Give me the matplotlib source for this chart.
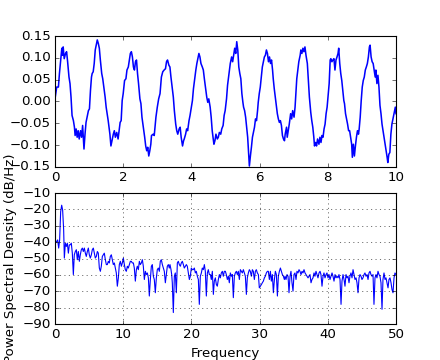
import numpy as np
import matplotlib
matplotlib.use('Agg')
import matplotlib.pyplot as plt

# sinal no tempo
sig_t = [
    0.00, 0.05, 0.10, 0.13, 0.17, 0.20, 0.22, 0.24, 0.27, 0.31,
    0.34, 0.37, 0.41, 0.44, 0.47, 0.50, 0.54, 0.57, 0.59, 0.62,
    0.65, 0.68, 0.71, 0.75, 0.78, 0.81, 0.83, 0.85, 0.88, 0.91,
    0.95, 0.98, 1.01, 1.04, 1.07, 1.09, 1.12, 1.15, 1.18, 1.21,
    1.24, 1.27, 1.30, 1.33, 1.37, 1.40, 1.44, 1.47, 1.50, 1.53,
    1.56, 1.61, 1.64, 1.67, 1.71, 1.74, 1.77, 1.81, 1.85, 1.88,
    1.91, 1.94, 1.97, 2.00, 2.04, 2.08, 2.11, 2.15, 2.18, 2.21,
    2.24, 2.27, 2.30, 2.33, 2.36, 2.39, 2.42, 2.45, 2.49, 2.52,
    2.55, 2.59, 2.63, 2.66, 2.69, 2.72, 2.75, 2.78, 2.81, 2.83,
    2.88, 2.91, 2.96, 3.00, 3.04, 3.08, 3.12, 3.16, 3.20, 3.24,
    3.27, 3.30, 3.34, 3.37,
    3.40, 3.44, 3.47, 3.50, 3.54, 3.57, 3.60, 3.64, 3.67, 3.70,
    3.74, 3.77, 3.79, 3.83, 3.86, 3.89, 3.93, 3.96, 3.99, 4.03,
    4.06, 4.09, 4.13, 4.16, 4.19, 4.22, 4.25, 4.28, 4.32, 4.35,
    4.38, 4.42, 4.45, 4.48, 4.51, 4.55, 4.58, 4.61, 4.64, 4.66,
    4.69, 4.72, 4.76, 4.79, 4.82, 4.86, 4.89, 4.93, 4.96, 4.99,
    5.03, 5.06, 5.09, 5.11, 5.14, 5.18, 5.21, 5.24, 5.27, 5.30,
    5.33, 5.36, 5.39, 5.42, 5.45, 5.48, 5.51, 5.53, 5.56, 5.59,
    5.62, 5.65, 5.68, 5.70, 5.73, 5.76, 5.79, 5.82, 5.85, 5.88,
    5.91, 5.94, 5.96, 5.99, 6.02, 6.05, 6.08, 6.11, 6.14, 6.17,
    6.20, 6.23, 6.26, 6.29, 6.32, 6.35, 6.38, 6.40, 6.43, 6.46,
    6.49, 6.52, 6.55, 6.58, 6.61, 6.64, 6.67, 6.70, 6.73, 6.75,
    6.79, 6.81, 6.84, 6.87, 6.91, 6.94, 6.97, 7.01, 7.04, 7.07,
    7.09, 7.12, 7.15, 7.19, 7.21, 7.24, 7.27, 7.30, 7.33, 7.36,
    7.40, 7.43, 7.46, 7.50, 7.53, 7.56, 7.59, 7.61, 7.64, 7.67,
    7.70, 7.74, 7.77, 7.80, 7.83, 7.86, 7.89, 7.92, 7.95, 7.98,
    8.01, 8.04, 8.07, 8.09, 8.12, 8.15, 8.18, 8.21, 8.24, 8.27,
    8.30, 8.32, 8.35, 8.38, 8.41, 8.44, 8.47, 8.49, 8.52, 8.55,
    8.58, 8.61, 8.64, 8.67, 8.70, 8.72, 8.75, 8.78, 8.81, 8.84,
    8.87, 8.90, 8.92, 8.95, 8.98, 9.01, 9.04, 9.07, 9.10, 9.13,
    9.16, 9.19, 9.22, 9.24, 9.27, 9.30, 9.33, 9.36, 9.39, 9.41,
    9.44, 9.47, 9.50, 9.53, 9.56, 9.59, 9.62, 9.65, 9.68, 9.71,
    9.74, 9.76, 9.79, 9.82, 9.85, 9.88, 9.90, 9.93, 9.96, 9.98, 10.0,
]
sig_v = [
    0.006, 0.033, 0.033, 0.064, 0.098, 0.122, 0.106, 0.125, 0.098, 0.110,
    0.114, 0.091, 0.056, 0.041, 0.010, -0.032, -0.044, -0.059, -0.078, -0.063,
    -0.082, -0.067, -0.086, -0.067, -0.082, -0.055, -0.082, -0.109, -0.075, -0.048,
    -0.032, -0.021, -0.017, 0.025, 0.056, 0.064, 0.068, 0.087, 0.118, 0.129,
    0.141, 0.133, 0.122, 0.095, 0.064, 0.052, 0.029, 0.010, -0.013, -0.028,
    -0.044, -0.075, -0.102, -0.090, -0.075, -0.067, -0.082, -0.071, -0.086, -0.067,
    -0.048, -0.044, 0.002, 0.018, 0.048, 0.052, 0.072, 0.079, 0.095, 0.110,
    0.114, 0.102, 0.079, 0.072, 0.091, 0.095, 0.064, 0.041, 0.006, -0.005,
    -0.036, -0.059, -0.082, -0.102, -0.113, -0.105, -0.125, -0.113, -0.098, -0.078,
    -0.075, -0.078, -0.036, -0.013, 0.006, 0.018, 0.056, 0.068, 0.072, 0.075,
    0.091, 0.095, 0.083, 0.079,
    0.056, 0.029, 0.010, -0.021, -0.052, -0.067, -0.075, -0.063, -0.059, -0.082,
    -0.102, -0.090, -0.086, -0.075, -0.063, -0.067, -0.044, -0.032, -0.017, 0.002,
    0.029, 0.048, 0.072, 0.087, 0.098, 0.110, 0.102, 0.087, 0.079, 0.072,
    0.052, 0.029, 0.010, -0.002, 0.006, -0.013, -0.036, -0.067, -0.086, -0.098,
    -0.090, -0.075, -0.086, -0.082, -0.071, -0.075, -0.063, -0.055, -0.032, -0.021,
    0.006, 0.037, 0.056, 0.068, 0.087, 0.102, 0.091, 0.106, 0.122, 0.110,
    0.137, 0.118, 0.079, 0.064, 0.052, 0.018, -0.002, -0.013, -0.021, -0.036,
    -0.059, -0.082, -0.121, -0.148, -0.125, -0.105, -0.082, -0.071, -0.059, -0.040,
    -0.044, -0.021, -0.002, 0.018, 0.033, 0.056, 0.079, 0.091, 0.102, 0.106,
    0.118, 0.110, 0.091, 0.102, 0.087, 0.095, 0.072, 0.052, 0.029, 0.010,
    -0.009, -0.028, -0.040, -0.048, -0.044, -0.055, -0.078, -0.086, -0.090, -0.075,
    -0.059, -0.082, -0.067, -0.052, -0.028, -0.040, -0.021, -0.036, -0.013, 0.025,
    0.052, 0.072, 0.091, 0.106, 0.118, 0.110, 0.122, 0.114, 0.125, 0.106,
    0.087, 0.048, 0.010, -0.025, -0.044, -0.059, -0.082, -0.102, -0.094, -0.102,
    -0.086, -0.098, -0.082, -0.094, -0.078, -0.082, -0.063, -0.052, -0.028, -0.013,
    0.014, 0.041, 0.095, 0.098, 0.091, 0.095, 0.098, 0.072, 0.095, 0.102,
    0.110, 0.122, 0.087, 0.064, 0.048, 0.025, 0.002, -0.005, -0.028, -0.040,
    -0.052, -0.067, -0.067, -0.082, -0.098, -0.128, -0.098, -0.125, -0.102, -0.082,
    -0.067, -0.075, -0.063, -0.036, 0.002, 0.033, 0.048, 0.056, 0.072, 0.079,
    0.087, 0.102, 0.125, 0.129, 0.102, 0.091, 0.087, 0.072, 0.056, 0.072,
    0.041, 0.060, 0.033, -0.009, -0.028, -0.052, -0.067, -0.082, -0.098, -0.113,
    -0.128, -0.140, -0.121, -0.117, -0.075, -0.052, -0.044, -0.032, -0.021, -0.013, -0.028,
]

# densidade espectral (dB/Hz)
psd_f = [
    0.00, 0.24, 0.39, 0.54, 0.68, 0.83, 0.98, 1.12, 1.27, 1.37,
    1.52, 1.66, 1.81, 1.96, 2.10, 2.25, 2.39, 2.54, 2.69, 2.83,
    2.98, 3.13, 3.27, 3.42, 3.57, 3.71, 3.86, 4.01, 4.15, 4.30,
    4.45, 4.59, 4.74, 4.89, 5.03, 5.18, 5.33, 5.47, 5.62, 5.77,
    5.91, 6.06, 6.21, 6.35, 6.50, 6.65, 6.79, 6.94, 7.09, 7.23,
    7.38, 7.53, 7.67, 7.82, 7.97, 8.11, 8.26, 8.41, 8.55, 8.70,
    8.85, 8.99, 9.14, 9.29, 9.43, 9.58, 9.73, 9.87, 10.02, 10.17,
    10.31, 10.46, 10.61, 10.75, 10.90, 11.05, 11.19, 11.34, 11.49, 11.63,
    11.78, 11.93, 12.07, 12.22, 12.37, 12.51, 12.66, 12.81, 12.95, 13.10,
    13.25, 13.39, 13.54, 13.69, 13.83, 13.98, 14.13, 14.27, 14.42, 14.56,
    14.71, 14.86, 15.00, 15.15, 15.30, 15.44, 15.59, 15.74, 15.88, 16.03,
    16.18, 16.32, 16.47, 16.62, 16.76, 16.86,
    17.01, 17.11, 17.20, 17.35, 17.50, 17.64, 17.79, 17.94, 18.08, 18.23,
    18.38, 18.52, 18.67, 18.82, 18.96, 19.11, 19.26, 19.40, 19.55, 19.70,
    19.84, 19.99, 20.14, 20.28, 20.43, 20.58, 20.72, 20.87, 21.02, 21.16,
    21.31, 21.46, 21.60, 21.75, 21.90, 22.04, 22.19, 22.34, 22.48, 22.63,
    22.78, 22.92, 23.07, 23.22, 23.36, 23.51, 23.66, 23.80, 23.95, 24.10,
    24.24, 24.39, 24.54, 24.68, 24.83, 24.98, 25.12, 25.27, 25.42, 25.56,
    25.71, 25.86, 26.00, 26.15, 26.30, 26.44, 26.59, 26.74, 26.88, 27.03,
    27.18, 27.32, 27.47, 27.62, 27.76, 27.91, 28.06, 28.20, 28.35, 28.50,
    28.64, 28.79, 28.94, 29.08, 29.23, 29.38, 29.52, 29.67, 29.82, 29.96,
    30.11, 30.26, 30.40, 30.55, 30.70, 30.84, 30.99, 31.14, 31.28, 31.43,
    31.58, 31.72, 31.87, 32.02, 32.17, 32.31, 32.46, 32.61, 32.75, 32.90,
    33.05, 33.19, 33.34, 33.49, 33.63, 33.73,
    33.87, 34.02, 34.17, 34.31, 34.46, 34.60, 34.75, 34.90, 35.04, 35.19,
    35.34, 35.48, 35.63, 35.78, 35.92, 36.07, 36.22, 36.36, 36.51, 36.66,
    36.80, 36.95, 37.10, 37.24, 37.39, 37.54, 37.68, 37.83, 37.98, 38.12,
    38.27, 38.42, 38.56, 38.71, 38.86, 39.00, 39.15, 39.30, 39.44, 39.59,
    39.74, 39.88, 40.03, 40.18, 40.32, 40.47, 40.62, 40.76, 40.91, 41.06,
    41.20, 41.35, 41.50, 41.64, 41.79, 41.94, 42.08, 42.23, 42.38, 42.52,
    42.67, 42.82, 42.96, 43.11, 43.25, 43.40, 43.55, 43.70, 43.84, 43.99,
    44.14, 44.28, 44.43, 44.58, 44.72, 44.87, 45.01, 45.16, 45.31, 45.45,
    45.60, 45.75, 45.90, 46.04, 46.19, 46.33, 46.48, 46.63, 46.77, 46.92,
    47.07, 47.21, 47.36, 47.51, 47.65, 47.80, 47.95, 48.09, 48.24, 48.39,
    48.53, 48.68, 48.83, 48.97, 49.12, 49.27, 49.41, 49.56, 49.71, 49.85, 50.00,
]
psd_db = [
    -41.0, -39.6, -38.6, -43.6, -38.6, -21.4, -17.4, -20.4, -32.5, -49.7,
    -40.6, -42.6, -40.6, -46.7, -41.6, -41.6, -40.6, -46.7, -59.8, -47.7,
    -45.7, -44.6, -50.7, -45.7, -51.7, -47.7, -44.6, -43.6, -45.7, -43.6,
    -46.7, -48.7, -45.7, -43.6, -47.7, -49.7, -47.7, -44.6, -43.6, -46.7,
    -49.7, -48.7, -45.7, -46.7, -55.8, -57.8, -54.7, -48.7, -47.7, -46.7,
    -50.7, -53.7, -53.7, -51.7, -52.7, -48.7, -47.7, -50.7, -53.7, -52.7,
    -55.8, -58.8, -66.9, -61.8, -53.7, -51.7, -54.7, -52.7, -49.7, -53.7,
    -56.8, -57.8, -54.7, -55.8, -53.7, -51.7, -51.7, -52.7, -52.7, -55.8,
    -63.8, -56.8, -54.7, -56.8, -51.7, -53.7, -52.7, -50.7, -54.7, -62.8,
    -57.8, -59.8, -58.8, -61.8, -72.9, -62.8, -54.7, -53.7, -60.8, -62.8,
    -70.9, -61.8, -56.8, -55.8, -57.8, -51.7, -50.7, -53.7, -55.8, -57.8,
    -64.8, -59.8, -54.7, -53.7, -55.8, -53.7,
    -56.8, -59.8, -64.8, -83.0, -60.8, -58.8, -70.9, -52.7, -51.7, -53.7,
    -54.7, -52.7, -51.7, -53.7, -55.8, -54.7, -53.7, -54.7, -58.8, -62.8,
    -60.8, -55.8, -56.8, -56.8, -55.8, -58.8, -57.8, -60.8, -62.8, -78.0,
    -60.8, -58.8, -55.8, -56.8, -53.7, -57.8, -72.9, -58.8, -56.8, -59.8,
    -59.8, -62.8, -57.8, -71.9, -63.8, -61.8, -65.9, -66.9, -62.8, -59.8,
    -61.8, -58.8, -57.8, -60.8, -57.8, -57.8, -59.8, -62.8, -60.8, -64.8,
    -58.8, -60.8, -59.8, -73.9, -60.8, -58.8, -57.8, -59.8, -57.8, -62.8,
    -56.8, -57.8, -58.8, -56.8, -58.8, -60.8, -71.9, -61.8, -58.8, -56.8,
    -57.8, -60.8, -56.8, -57.8, -62.8, -57.8, -56.8, -58.8, -59.8, -67.9,
    -66.9, -65.9, -64.8, -63.8, -61.8, -60.8, -58.8, -57.8, -57.8, -62.8,
    -57.8, -63.8, -59.8, -70.9, -62.8, -57.8, -59.8, -72.9, -60.8, -57.8,
    -55.8, -57.8, -59.8, -60.8, -62.8, -60.8,
    -62.8, -59.8, -60.8, -70.9, -60.8, -57.8, -64.8, -69.9, -59.8, -58.8,
    -62.8, -57.8, -58.8, -56.8, -57.8, -59.8, -57.8, -58.8, -56.8, -58.8,
    -59.8, -60.8, -61.8, -60.8, -59.8, -64.8, -62.8, -61.8, -58.8, -60.8,
    -57.8, -59.8, -61.8, -58.8, -57.8, -59.8, -66.9, -60.8, -58.8, -61.8,
    -59.8, -58.8, -61.8, -59.8, -62.8, -60.8, -58.8, -60.8, -63.8, -59.8,
    -61.8, -60.8, -61.8, -59.8, -62.8, -78.0, -63.8, -59.8, -62.8, -66.9,
    -59.8, -61.8, -60.8, -64.8, -60.8, -58.8, -61.8, -56.8, -59.8, -62.8,
    -61.8, -64.8, -70.9, -61.8, -59.8, -60.8, -62.8, -61.8, -59.8, -58.8,
    -60.8, -59.8, -62.8, -58.8, -57.8, -59.8, -60.8, -59.8, -78.0, -61.8,
    -59.8, -61.8, -57.8, -59.8, -60.8, -64.8, -81.0, -62.8, -58.8, -62.8,
    -61.8, -64.8, -67.9, -62.8, -61.8, -64.8, -68.9, -70.9, -61.8, -58.8, -59.8,
]

plt.style.use('classic')

fig = plt.figure(figsize=(5.5, 4.5), dpi=80)

plt.subplot(211)
plt.plot(sig_t, sig_v, color='b', linewidth=1.4)
plt.xlim(0, 10)
plt.ylim(-0.15, 0.15)
plt.yticks(np.arange(-0.15, 0.151, 0.05))

plt.subplot(212)
plt.plot(psd_f, psd_db, color='b')
plt.xlim(0, 50)
plt.ylim(-90, -10)
plt.yticks(np.arange(-90, -9, 10))
plt.grid(True)
plt.xlabel('Frequency')
plt.ylabel('Power Spectral Density (dB/Hz)')

plt.savefig('out.png', dpi=80, facecolor='white')
